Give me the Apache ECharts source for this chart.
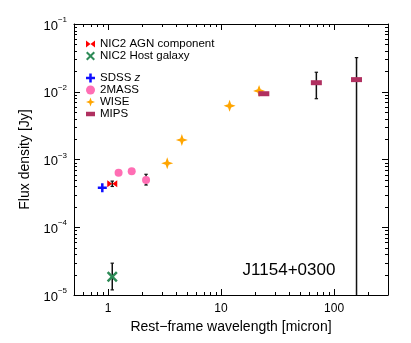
<!DOCTYPE html>
<html><head><meta charset="utf-8">
<script src="https://cdn.jsdelivr.net/npm/echarts@6/dist/echarts.min.js"></script>
<style>html,body{margin:0;padding:0;background:#fff}#c{width:411px;height:343px}</style>
</head><body><div id="c"></div>
<script>
// ---- data ----
var nicAgnX = [1.09];           var nicAgnY = [4.4e-4];
var nicAgnErr = [[4.0e-4, 4.8e-4]];
var nicHostX = [1.09];          var nicHostY = [1.86e-5];
var nicHostErr = [[1.19e-5, 2.95e-5]];
var sdssX = [0.89];             var sdssY = [3.84e-4];
var twoMassX = [1.24, 1.62, 2.17];
var twoMassY = [6.4e-4, 6.7e-4, 5.0e-4];
var twoMassErr = [null, null, [4.2e-4, 6.05e-4]];
var wiseX = [3.34, 4.5, 11.9, 21.7];
var wiseY = [8.8e-4, 1.94e-3, 6.2e-3, 1.03e-2];
var mipsX = [23.9, 69.7, 158];
var mipsY = [9.35e-3, 1.36e-2, 1.51e-2];
var mipsErr = [null, [7.9e-3, 1.94e-2], [1e-7, 3.19e-2]];
var xMajorTicks = [1, 10, 100];
var xMinorTicks = [0.6,0.7,0.8,0.9,2,3,4,5,6,7,8,9,20,30,40,50,60,70,80,90,200];
var yMajorTicks = [1e-5, 1e-4, 1e-3, 1e-2, 1e-1];
var yMinorTicks = [2e-5,3e-5,4e-5,5e-5,6e-5,7e-5,8e-5,9e-5,
                   2e-4,3e-4,4e-4,5e-4,6e-4,7e-4,8e-4,9e-4,
                   2e-3,3e-3,4e-3,5e-3,6e-3,7e-3,8e-3,9e-3,
                   2e-2,3e-2,4e-2,5e-2,6e-2,7e-2,8e-2,9e-2];
var xRange = [0.5, 300];
var yRange = [1e-5, 0.1];
var objectName = 'J1154+0300';

// ---- build ----
function zip(xs, ys){ return xs.map(function(x,i){ return [x, ys[i]]; }); }
function errData(xs, errs){
  var out = [];
  xs.forEach(function(x,i){ if (errs[i]) out.push([x, errs[i][0], errs[i][1]]); });
  return out;
}
var errAll = [].concat(errData(nicAgnX, nicAgnErr), errData(nicHostX, nicHostErr),
                       errData(twoMassX, twoMassErr), errData(mipsX, mipsErr));

var P_BOW = 'path://M0,0L10,5L0,10ZM20,0L10,5L20,10Z';
var P_BOW_L = 'path://M0,0L5,4L0,8ZM10,0L5,4L10,8Z';
var P_X = 'path://M0,1.6L1.6,0L5,3.4L8.4,0L10,1.6L6.6,5L10,8.4L8.4,10L5,6.6L1.6,10L0,8.4L3.4,5Z';
var P_PLUS = 'path://M3.6,0H6.4V3.6H10V6.4H6.4V10H3.6V6.4H0V3.6H3.6Z';
var P_STAR = 'path://M5,0L6.3,3.7L10,5L6.3,6.3L5,10L3.7,6.3L0,5L3.7,3.7Z';
var P_RECT = 'path://M0,0H10V5H0Z';

var FONT = 'Liberation Sans';
var axisLine = {show:true, onZero:false, lineStyle:{color:'#000', width:1}};

function errRender(params, api){
  var x = api.value(0), lo = api.value(1), hi = api.value(2);
  var p0 = api.coord([x, lo]), p1 = api.coord([x, hi]);
  var c = 1.7;
  return {type:'group', children:[
    {type:'line', shape:{x1:p0[0], y1:p0[1], x2:p1[0], y2:p1[1]}, style:{stroke:'#111', lineWidth:1.5}},
    {type:'line', shape:{x1:p0[0]-c, y1:p0[1], x2:p0[0]+c, y2:p0[1]}, style:{stroke:'#111', lineWidth:1.2}},
    {type:'line', shape:{x1:p1[0]-c, y1:p1[1], x2:p1[0]+c, y2:p1[1]}, style:{stroke:'#111', lineWidth:1.2}}
  ]};
}

var legendText = {fontFamily:FONT, fontSize:11.5, color:'#000', lineHeight:11,
                  rich:{i:{fontFamily:FONT, fontSize:11.5, fontStyle:'italic', lineHeight:11}}};
function legendFmt(n){ return n === 'SDSS z' ? 'SDSS {i|z}' : n; }

var titleGraphic = {type:'text', id:'obj', x:289, y:270,
    style:{text:objectName, x:0, y:0, align:'center', verticalAlign:'middle', font:'17px "Liberation Sans"', fill:'#000'}};

var option = {
  animation:false,
  backgroundColor:'#fff',
  grid:{left:74, right:23, top:24, bottom:48, containLabel:false},
  legend:[
    {orient:'vertical', left:86, top:38, padding:0, itemGap:0, itemWidth:9, itemHeight:9,
     selectedMode:false, textStyle:legendText, formatter:legendFmt,
     data:[{name:'NIC2 AGN component', icon:P_BOW_L},{name:'NIC2 Host galaxy', icon:P_X}]},
    {orient:'vertical', left:86, top:72, padding:0, itemGap:0, itemWidth:9, itemHeight:9,
     selectedMode:false, textStyle:legendText, formatter:legendFmt,
     data:[{name:'SDSS z', icon:P_PLUS},{name:'2MASS', icon:'circle'},{name:'WISE', icon:P_STAR},{name:'MIPS', icon:P_RECT}]}
  ],
  xAxis:[
    {type:'log', logBase:10, min:xRange[0], max:xRange[1], position:'bottom',
     name:'Rest\u2212frame wavelength [micron]', nameLocation:'middle', nameGap:20,
     nameTextStyle:{fontFamily:FONT, fontSize:14, color:'#000'},
     axisLine:axisLine, splitLine:{show:false},
     axisTick:{show:false},
     axisLabel:{show:true, margin:8, fontFamily:FONT, fontSize:12, color:'#000', showMinLabel:false, showMaxLabel:false,
       formatter:function(v){ var e = Math.log10(v); return Math.abs(e-Math.round(e))<1e-6 ? String(Math.round(v)) : ''; }}},
    {type:'log', logBase:10, min:xRange[0], max:xRange[1], position:'top',
     axisLine:axisLine, splitLine:{show:false}, axisLabel:{show:false}, axisTick:{show:false}}
  ],
  yAxis:[
    {type:'log', logBase:10, min:yRange[0], max:yRange[1], position:'left',
     name:'Flux density [Jy]', nameLocation:'middle', nameGap:33,
     nameTextStyle:{fontFamily:FONT, fontSize:14, color:'#000'},
     axisLine:axisLine, splitLine:{show:false},
     axisTick:{show:false},
     axisLabel:{show:true, margin:7, fontFamily:FONT, color:'#000',
       formatter:function(v){ var e = Math.round(Math.log10(v)); return '{b|10}{s|' + (e<0?'\u2212':'') + Math.abs(e) + '}'; },
       rich:{b:{fontFamily:FONT, fontSize:13, color:'#000', padding:[4,0,0,0]},
             s:{fontFamily:FONT, fontSize:8, color:'#000', padding:[0,0,8,0]}}}},
    {type:'log', logBase:10, min:yRange[0], max:yRange[1], position:'right',
     axisLine:axisLine, splitLine:{show:false}, axisLabel:{show:false}, axisTick:{show:false}}
  ],
  graphic:[titleGraphic],
  series:[
    {type:'custom', name:'errors', renderItem:errRender, silent:true, clip:true,
     encode:{x:0, y:[1,2]}, data:errAll, z:2},
    {type:'scatter', name:'NIC2 AGN component', data:zip(nicAgnX, nicAgnY), symbol:P_BOW, symbolSize:[10,7],
     itemStyle:{color:'#ff0000', opacity:1}, z:3},
    {type:'scatter', name:'NIC2 Host galaxy', data:zip(nicHostX, nicHostY), symbol:P_X, symbolSize:11,
     itemStyle:{color:'#2e8b57', opacity:1}, z:3},
    {type:'scatter', name:'SDSS z', data:zip(sdssX, sdssY), symbol:P_PLUS, symbolSize:9,
     itemStyle:{color:'#1010ff', opacity:1}, z:3},
    {type:'scatter', name:'2MASS', data:zip(twoMassX, twoMassY), symbol:'circle', symbolSize:8,
     itemStyle:{color:'#ff6eb4', opacity:1}, z:3},
    {type:'scatter', name:'WISE', data:zip(wiseX, wiseY), symbol:P_STAR, symbolSize:12,
     itemStyle:{color:'#ffa500', opacity:1}, z:3},
    {type:'scatter', name:'MIPS', data:zip(mipsX, mipsY), symbol:P_RECT, symbolSize:[11,5],
     itemStyle:{color:'#b03060', opacity:1}, z:4}
  ]
};
var chart = echarts.init(document.getElementById('c'), null, {renderer:'canvas'});
chart.setOption(option);

// ticks on all four sides, placed through the axis scales (filled 1px rects)
(function(){
  var L = Math.round(chart.convertToPixel({xAxisIndex:0}, xRange[0]));
  var R = Math.round(chart.convertToPixel({xAxisIndex:0}, xRange[1]));
  var B = Math.round(chart.convertToPixel({yAxisIndex:0}, yRange[0]));
  var T = Math.round(chart.convertToPixel({yAxisIndex:0}, yRange[1]));
  var els = [titleGraphic];
  function box(x, y, w, h){
    els.push({type:'rect', silent:true, z:100,
      shape:{x:x, y:y, width:w, height:h}, style:{fill:'#000', stroke:null}});
  }
  function xt(v, len){
    var x = Math.round(chart.convertToPixel({xAxisIndex:0}, v));
    box(x, B - len, 1, len); box(x, T, 1, len);
  }
  function yt(v, len){
    var y = Math.round(chart.convertToPixel({yAxisIndex:0}, v));
    box(L, y, len, 1); box(R - len, y, len, 1);
  }
  xMinorTicks.forEach(function(v){ xt(v, 3); });
  xMajorTicks.forEach(function(v){ xt(v, 6); });
  yMinorTicks.forEach(function(v){ yt(v, 3); });
  yMajorTicks.forEach(function(v){ yt(v, 6); });
  chart.setOption({graphic:els}, {replaceMerge:['graphic']});
})();
</script></body></html>
